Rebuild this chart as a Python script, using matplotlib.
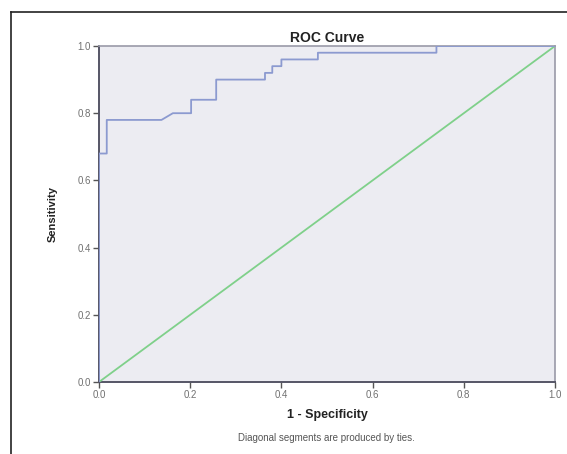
import matplotlib
matplotlib.use('Agg')
import matplotlib.pyplot as plt
from matplotlib.lines import Line2D
from matplotlib.patches import Rectangle

# ROC curve (1 - specificity, sensitivity)
fpr = [0.0, 0.0, 0.017, 0.017, 0.137, 0.162, 0.202, 0.202, 0.257, 0.257,
       0.364, 0.364, 0.38, 0.38, 0.40, 0.40, 0.48, 0.48, 0.74, 0.74, 1.0]
tpr = [0.0, 0.68, 0.68, 0.78, 0.78, 0.80, 0.80, 0.84, 0.84, 0.90,
       0.90, 0.92, 0.92, 0.94, 0.94, 0.96, 0.96, 0.98, 0.98, 1.0, 1.0]
ref_x = [0.0, 1.0]
ref_y = [0.0, 1.0]
ticks = [0.0, 0.2, 0.4, 0.6, 0.8, 1.0]
tick_labels = ['0.0', '0.2', '0.4', '0.6', '0.8', '1.0']

plt.rcParams['font.family'] = ['Liberation Sans', 'DejaVu Sans']
plt.rcParams['hatch.color'] = '#b4b4c8'
plt.rcParams['hatch.linewidth'] = 0.8

fig = plt.figure(figsize=(5.67, 4.54), dpi=100)
ax = fig.add_axes([99/567, 1-382/454, 456/567, 336/454])

# stippled plot background
ax.set_facecolor('#ececf2')
ax.add_patch(Rectangle((0, 0), 1, 1, transform=ax.transAxes, facecolor='none',
                       edgecolor='none', hatch='......', zorder=0))

ax.plot(ref_x, ref_y, color='#7fd08a', lw=1.3, zorder=3)
ax.plot(fpr, tpr, color='#8c9ad0', lw=1.3, zorder=4)

ax.set_xlim(0, 1)
ax.set_ylim(0, 1)
ax.set_xticks(ticks)
ax.set_xticklabels(tick_labels)
ax.set_yticks(ticks)
ax.set_yticklabels(tick_labels)
ax.tick_params(direction='out', length=4, width=1, color='#555555',
               labelsize=7, labelcolor='#707070', pad=2)

for side in ['left', 'bottom']:
  ax.spines[side].set_color('#555566')
  ax.spines[side].set_linewidth(1.4)
for side in ['top', 'right']:
  ax.spines[side].set_color('#9a9aa8')
  ax.spines[side].set_linewidth(1.2)

ax.set_title('ROC Curve', fontsize=10, fontweight='bold', color='#222222', pad=3)
ax.set_xlabel('1 - Specificity', fontsize=9, fontweight='bold', color='#222222', labelpad=6)
ax.set_ylabel('Sensitivity', fontsize=8, fontweight='bold', color='#222222', labelpad=14)

fig.text(326/567, 1-438/454, 'Diagonal segments are produced by ties.',
         ha='center', va='center', fontsize=7, color='#555555')

# outer frame, only the left and top edges are visible in the crop
fig.add_artist(Line2D([11/567, 1.0], [1-12/454, 1-12/454], color='#222222', lw=1.2))
fig.add_artist(Line2D([11/567, 11/567], [0.0, 1-12/454], color='#222222', lw=1.2))

fig.savefig('out.png', dpi=100)
